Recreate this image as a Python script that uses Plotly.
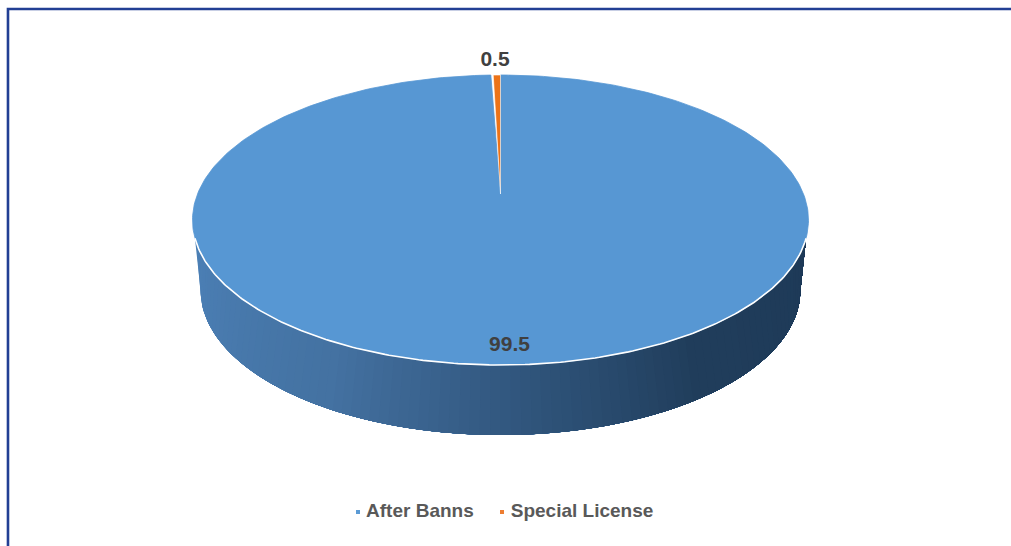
import numpy as np
import plotly.graph_objects as go

# Data
categories = ["After Banns", "Special License"]
values = [99.5, 0.5]

# Styles
TOP_COLORS = ["#5797d3", "#ec7318"]
KEY_COLORS = ["#5b9bd5", "#ed7d31"]
TEXT_LABEL = "#404040"
TEXT_LEGEND = "#595959"
FRAME = "#223f94"
FONT = "Liberation Sans"
W, H = 1011, 546

# Pie projection (drawing space = picture pixels)
CX, CY, RX, RY = 500.5, 220.0, 308.0, 145.0
BOT_CY, BOT_RX, BOT_RY = 290.0, 300.0, 145.0
APEX_Y = 194.0
BACK_FORESHORTEN = 0.75  # far-edge perspective narrows the thin back slice
RIM_T0 = 0.96 * np.pi
RIM_T1 = 0.04 * np.pi
WALL_STOPS = [(0.0, (76, 128, 182)), (0.3, (68, 114, 162)), (0.5, (50, 88, 128)),
              (0.72, (33, 62, 92)), (1.0, (30, 58, 88))]

fig = go.Figure()


def wall_color(f):
    xs = [s[0] for s in WALL_STOPS]
    return "rgb(%d,%d,%d)" % tuple(np.interp(f, xs, [s[1][i] for s in WALL_STOPS]) for i in range(3))


# Side wall, shaded left to right: each band covers everything to its right,
# so later bands paint over earlier ones with no seams
N = 90
fs = np.linspace(0, 1, N, endpoint=False)
for f in fs:
    t_top = np.linspace(RIM_T0 + (RIM_T1 - RIM_T0) * f, RIM_T1, 120)
    t_bot = np.linspace(0, np.pi * (1 - f), 120)
    x = np.r_[CX + RX * np.cos(t_top), CX + BOT_RX * np.cos(t_bot)]
    y = np.r_[CY + RY * np.sin(t_top), BOT_CY + BOT_RY * np.sin(t_bot)]
    fig.add_trace(go.Scatter(x=x, y=y, mode="lines", fill="toself",
                             fillcolor=wall_color(f), line=dict(width=0), hoverinfo="skip",
                             showlegend=False))

# Top face: slices drawn from the values, clockwise from 12 o'clock, ending at 12 o'clock
total = sum(values)
shares = [v / total for v in values]
a0 = 0.0
for name, share, col in zip(categories, shares, TOP_COLORS):
    a1 = a0 + share * 2 * np.pi
    t = np.linspace(a0, a1, max(3, int(share * 360)))
    big = share > 0.5
    scale = 1.0 if big else BACK_FORESHORTEN
    xr = CX + RX * np.sin(t) * scale
    yr = CY - RY * np.cos(t)
    x = np.r_[CX, xr, CX]
    y = np.r_[APEX_Y, yr, APEX_Y]
    fig.add_trace(go.Scatter(x=x, y=y, mode="lines", fill="toself", fillcolor=col,
                             line=dict(color=col if big else "white", width=0.8 if big else 0.6),
                             name=name, hoverinfo="skip", showlegend=False))
    a0 = a1

# White rim on the front edge
t = np.linspace(RIM_T0, RIM_T1, 200)
fig.add_trace(go.Scatter(x=CX + RX * np.cos(t), y=CY + RY * np.sin(t), mode="lines",
                         line=dict(color="white", width=1.6), hoverinfo="skip", showlegend=False))

# Data labels
LABEL_POS = [(509.5, 345.5), (495.0, 60.5)]
fig.add_trace(go.Scatter(x=[p[0] for p in LABEL_POS], y=[p[1] for p in LABEL_POS], mode="text",
                         text=[str(v) for v in values],
                         textfont=dict(family=FONT, size=21, color=TEXT_LABEL, weight="bold"),
                         hoverinfo="skip", showlegend=False))

# Legend row
KEY_X = [358.0, 502.0]
KEY_Y = 512.0
for name, kx, col in zip(categories, KEY_X, KEY_COLORS):
    fig.add_trace(go.Scatter(x=[kx], y=[KEY_Y], mode="markers+text", text=[" " + name],
                             textposition="middle right", name=name,
                             marker=dict(symbol="square", size=4, color=col),
                             textfont=dict(family=FONT, size=19, color=TEXT_LEGEND, weight="bold"),
                             hoverinfo="skip", showlegend=False, cliponaxis=False))

fig.update_layout(
    width=W, height=H, autosize=False,
    margin=dict(l=0, r=0, t=0, b=0),
    paper_bgcolor="white", plot_bgcolor="white",
    xaxis=dict(range=[0, W], visible=False, fixedrange=True),
    yaxis=dict(range=[H, 0], visible=False, fixedrange=True),
    shapes=[dict(type="path", xref="paper", yref="paper",
                 path="M 0.0079 0 L 0.0079 0.9835 L 1 0.9835",
                 line=dict(color=FRAME, width=2.6))],
)

fig.write_html("out.html", config={"displayModeBar": False},
               post_script="document.body.style.margin='0';")
